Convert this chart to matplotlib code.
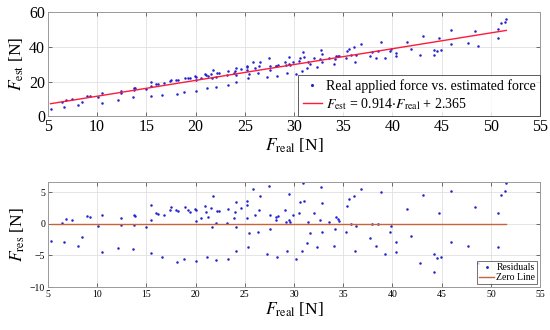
import numpy as np
import matplotlib
matplotlib.use("Agg")
import matplotlib.pyplot as plt

plt.rcParams['font.family'] = ['Liberation Serif', 'DejaVu Serif']
plt.rcParams['mathtext.fontset'] = 'stix'

# applied force [N]
f_real = [5.27, 6.47, 6.61, 6.88, 7.43, 8.05, 8.42, 8.94, 9.28, 10.14,
          10.45, 10.55, 12.09, 12.47, 12.47, 13.63, 13.73, 13.87, 13.77, 14.93,
          15.45, 15.48, 15.48, 16.03, 16.16, 16.64, 16.82, 17.36, 17.5, 18.05,
          18.18, 18.08, 18.87, 18.94, 19.28, 19.45, 19.9, 20.07, 20.07, 20.0,
          20.58, 20.92, 21.06, 21.16, 21.27, 21.54, 21.68, 21.78, 22.12, 22.12,
          22.23, 22.36, 23.15, 23.25, 23.32, 23.94, 24.04, 24.08, 24.08, 24.11,
          24.62, 25.27, 25.27, 25.24, 25.3, 25.4, 25.79, 26.03, 26.34, 26.47,
          26.51, 27.26, 27.43, 27.57, 27.57, 28.18, 28.29, 28.36, 28.19, 29.04,
          29.15, 29.32, 29.45, 29.45, 29.56, 29.93, 30.24, 30.48, 30.61, 30.85,
          30.92, 31.06, 31.3, 31.47, 31.67, 32.05, 32.35, 32.66, 32.7, 32.87,
          32.87, 33.58, 34.03, 34.2, 34.27, 34.5, 34.6, 35.29, 35.39, 35.56,
          35.77, 36.11, 36.21, 36.31, 36.83, 37.71, 37.95, 38.33, 38.5, 38.87,
          39.25, 39.73, 39.9, 40.34, 40.34, 41.5, 41.84, 42.83, 43.07, 44.2,
          44.27, 44.57, 44.78, 44.98, 45.9, 46.0, 47.64, 48.36, 48.7, 50.72,
          50.72, 50.99, 51.47, 51.57]

# estimated force [N]
f_est = [4.4, 8.4, 5.5, 9.5, 9.8, 6.2, 8.1, 11.7, 11.9, 11.3,
         7.4, 13.3, 9.6, 14.7, 13.6, 10.9, 16.2, 16.2, 14.9, 15.5,
         19.5, 17.2, 11.9, 18.8, 18.7, 12.3, 19.2, 20.5, 21.1, 21.0,
         20.9, 12.9, 14.0, 22.3, 22.1, 22.0, 22.9, 22.8, 21.1, 14.8,
         22.1, 24.3, 23.5, 16.5, 22.9, 24.6, 21.8, 26.7, 22.7, 16.9,
         24.8, 24.9, 23.7, 26.0, 18.1, 25.2, 26.2, 27.8, 23.9, 20.0,
         27.4, 29.1, 28.4, 26.4, 21.8, 24.1, 31.5, 27.6, 25.2, 28.7,
         31.0, 22.5, 33.4, 26.8, 29.0, 29.2, 23.1, 29.5, 28.8, 31.0,
         29.3, 24.9, 34.0, 30.0, 29.7, 31.1, 24.5, 32.0, 33.7, 26.3,
         37.1, 34.4, 27.9, 31.4, 29.9, 33.3, 28.2, 32.8, 38.0, 31.1,
         35.6, 33.3, 29.9, 32.9, 34.8, 34.7, 34.5, 33.3, 37.6, 38.7,
         35.1, 39.8, 31.1, 35.3, 41.5, 34.6, 37.0, 33.8, 37.6, 43.0,
         33.4, 37.4, 38.5, 36.3, 34.7, 42.6, 38.6, 35.4, 46.4, 35.2,
         38.1, 37.7, 44.9, 38.3, 49.5, 41.5, 42.3, 49.2, 40.7, 50.4,
         45.1, 53.5, 54.6, 56.0]

# residuals [N]
f_res = [-2.77, 0.16, -2.9, 0.8, 0.64, -3.56, -2.0, 1.17, 1.06, -0.37,
         -4.47, 1.33, -3.83, 0.9, -0.16, -3.94, 1.33, 1.17, -0.1, -0.53,
         2.98, 0.64, -4.63, 1.76, 1.6, -5.27, 1.44, 2.23, 2.71, 2.13,
         1.97, -6.0, -5.59, 2.6, 2.13, 1.81, 2.39, 2.13, 0.43, -5.85,
         0.96, 2.82, 1.91, -5.16, 1.12, 2.5, -0.43, 4.41, 0.16, -5.69,
         2.07, 2.07, 0.16, 2.34, -5.59, 0.96, 1.86, 3.4, -0.43, -4.36,
         2.5, 3.67, 2.98, 0.96, -3.67, -1.44, 5.59, 1.44, -1.28, 2.18,
         4.41, -4.79, 5.96, -0.8, 1.44, 1.12, -5.16, 1.22, 0.69, 2.13,
         0.32, -4.26, 4.68, 0.69, 0.32, 1.38, -5.53, 1.76, 3.4, -4.26,
         6.49, 3.67, -3.03, 0.27, -1.44, 1.65, -3.72, 0.59, 5.8, -1.33,
         3.24, 0.27, -3.56, -0.74, 1.12, 0.85, 0.53, -1.33, 2.87, 3.88,
         0.05, 4.41, -4.36, -0.27, 5.48, -2.18, -0.05, -3.56, 0.05, 5.1,
         -4.84, -1.28, -0.37, -2.93, -4.52, 2.29, -1.97, -6.12, 4.63, -7.55,
         -4.73, -5.43, 1.65, -5.16, 5.16, -2.87, -3.56, 2.66, -6.22, 1.7,
         -3.67, 4.57, 5.16, 6.54]

slope = 0.914
offset = 2.365

x = np.array(f_real)
xs = np.sort(x)

fig = plt.figure(figsize=(5.5, 3.3), dpi=100)
ax1 = fig.add_axes([0.087, 0.648, 0.895, 0.315])
ax2 = fig.add_axes([0.087, 0.130, 0.895, 0.318])

for ax in (ax1, ax2):
    ax.grid(True, color='#e0e0e0', linewidth=0.6)
    ax.set_axisbelow(True)
    for s in ax.spines.values():
        s.set_color('#9a9a9a')
        s.set_linewidth(0.7)
    ax.tick_params(direction='in', color='#555555', length=3, width=0.6,
                   top=True, right=True)
    ax.set_xlim(5, 55)

# top: estimate vs real
ax1.plot(x, f_est, '.', color='#2222cc', markersize=1.6,
         label='Real applied force vs. estimated force')
ax1.plot(xs, slope * xs + offset, color='#ff1a3a', linewidth=1.0,
         label=r'$F_{\mathrm{est}}$ = 0.914$\cdot F_{\mathrm{real}}$ + 2.365')
ax1.set_ylim(0, 60)
ax1.set_yticks([0, 20, 40, 60])
ax1.set_xticks(np.arange(5, 56, 5))
ax1.tick_params(labelsize=11.5, pad=2)
ax1.set_xlabel(r'$F_{\mathrm{real}}$ [N]', fontsize=12.5, labelpad=1)
ax1.set_ylabel(r'$F_{\mathrm{est}}$ [N]', fontsize=12.5, labelpad=2)
leg1 = ax1.legend(loc='lower right', fontsize=10, frameon=True, fancybox=False,
                  borderaxespad=0.0, handlelength=1.4, handletextpad=0.3,
                  borderpad=0.3, labelspacing=0.25, markerscale=1.5)
leg1.get_frame().set_edgecolor('#333333')
leg1.get_frame().set_linewidth(0.7)

# bottom: residuals
ax2.plot(x, f_res, '.', color='#2222cc', markersize=1.6, label='Residuals')
ax2.plot(xs, np.zeros_like(xs), color='#c8643a', linewidth=1.0,
         label='Zero Line')
ax2.set_ylim(-10, 6.6)
ax2.set_yticks([-10, -5, 0, 5])
ax2.set_yticklabels(['\u221210', '\u22125', '0', '5'])
ax2.set_xticks(np.arange(5, 56, 5))
ax2.tick_params(labelsize=7, pad=2)
ax2.set_xlabel(r'$F_{\mathrm{real}}$ [N]', fontsize=12.5, labelpad=1)
ax2.set_ylabel(r'$F_{\mathrm{res}}$ [N]', fontsize=12.5, labelpad=2)
leg2 = ax2.legend(loc='lower right', fontsize=7, frameon=True, fancybox=False,
                  borderaxespad=0.3, handlelength=1.6, handletextpad=0.2,
                  borderpad=0.2, labelspacing=0.1, markerscale=1.3)
leg2.get_frame().set_edgecolor('#333333')
leg2.get_frame().set_linewidth(0.6)

fig.savefig('out.png', dpi=100)
